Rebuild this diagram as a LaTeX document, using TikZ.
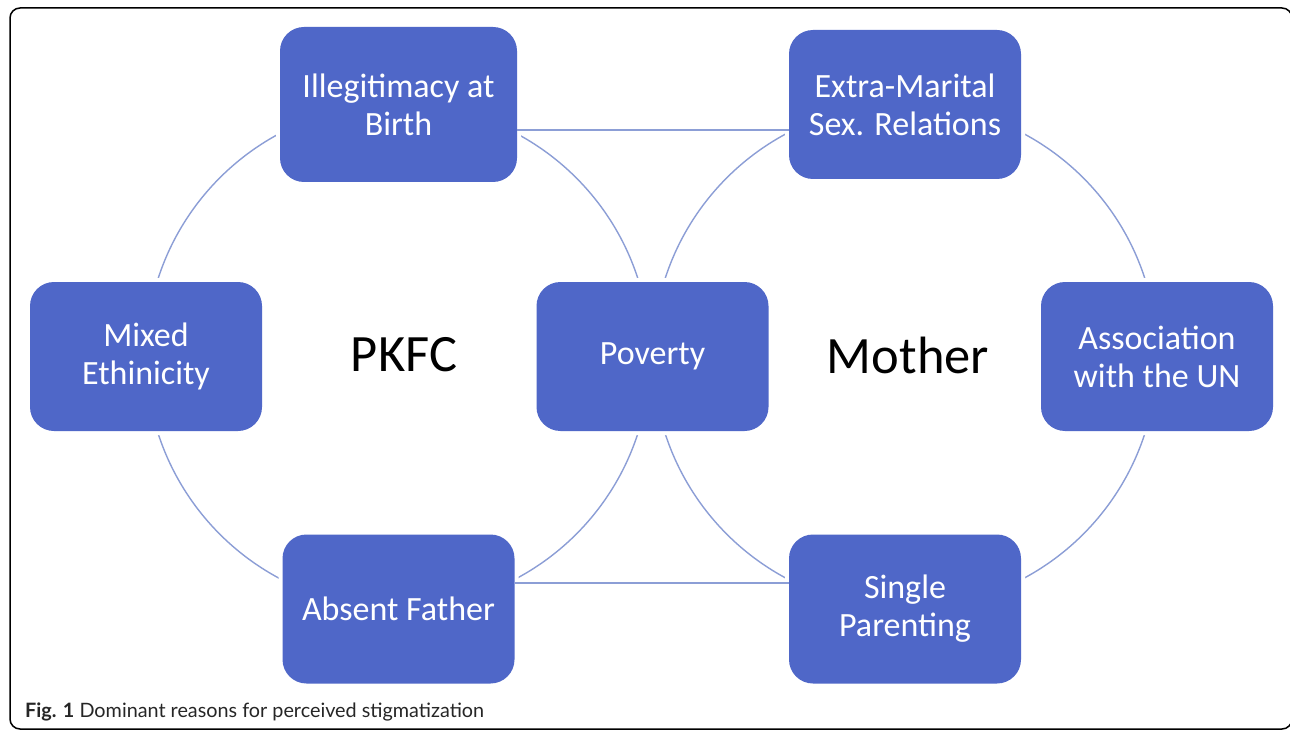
\documentclass[tikz,border=0pt]{standalone}
\usepackage{fontspec}
\setmainfont{Carlito}
\newfontfamily\capfont{Lato}
\definecolor{boxblue}{RGB}{79,103,200}
\definecolor{linkblue}{RGB}{140,158,214}
\begin{document}
\begin{tikzpicture}[x=1pt,y=-1pt,
  box/.style={rectangle, rounded corners=24pt, fill=boxblue, text=white,
    align=center, font=\fontsize{34}{38}\selectfont, inner sep=0pt,
    minimum width=232pt, minimum height=149pt,
    preaction={draw=white, line width=8pt}},
  link/.style={draw=linkblue, line width=1.4pt},
  big/.style={font=\fontsize{52.5}{56}\selectfont, inner sep=0pt}]
\useasboundingbox (0,0) rectangle (1290,730);
\fill[white] (0,0) rectangle (1290,730);
% frame
\draw[line width=1.5pt, rounded corners=10pt] (10,729) -- (10,8) -- (1292,8) -- (1292,729) -- cycle;
% circles
\coordinate (cl) at (398,356);
\coordinate (cr) at (905,356);
\draw[link] (cl) circle[radius=252pt];
\draw[link] (cr) circle[radius=252pt];
% boxes
\node[box, minimum width=237pt, minimum height=155pt] (ill) at (398.5,104.5) {Illegitimacy at\\Birth};
\node[box] (ext) at (905,104.5) {Extra-Marital\\Sex. Relations};
\node[box] (mix) at (146,356.5) {Mixed\\Ethinicity};
\node[box] (pov) at (652.5,356.5) {Poverty};
\node[box] (ass) at (1157,356.5) {Association\\with the UN};
\node[box] (abs) at (398.5,609) {Absent Father};
\node[box] (sin) at (905,609) {Single\\Parenting};
% straight connectors
\draw[link] ([yshift=-25.5pt]ill.east) -- ([yshift=-25.5pt]ext.west);
\draw[link] ([yshift=26pt]abs.east) -- ([yshift=26pt]sin.west);
% labels
\node[big] (pkfc) at (404,355) {PKFC};
\node[big] (mot) at (908,355) {Mother};
% caption
\node[anchor=base west, inner sep=0pt, font=\capfont\fontsize{19.8}{22}\selectfont, text=black!85] (cap) at (25,717) {\textbf{Fig. 1} Dominant reasons for perceived stigmatization};
\end{tikzpicture}
\end{document}
